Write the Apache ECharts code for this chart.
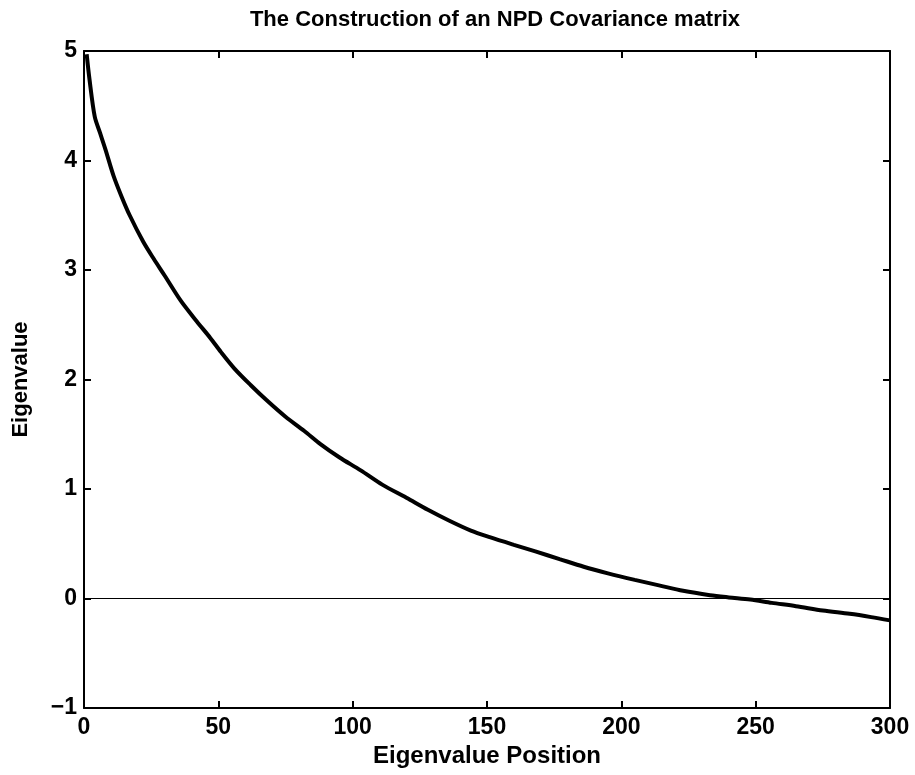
<!DOCTYPE html>
<html>
<head>
<meta charset="utf-8">
<script src="https://cdn.jsdelivr.net/npm/echarts@6/dist/echarts.min.js"></script>
<style>html,body{margin:0;padding:0;background:#fff;}#c{width:915px;height:775px;}</style>
</head>
<body>
<div id="c"></div>
<script>
var positions = [1, 2, 4, 6, 8, 11, 14, 17, 22, 26, 30, 36, 42, 47, 51, 56, 62, 68, 75, 82, 88, 95, 103, 111, 120, 128, 136, 144, 151, 160, 168, 177, 186, 195, 205, 214, 223, 233, 240, 248, 256, 265, 275, 285, 293, 300];
var eigenvalues = [4.97, 4.75, 4.4, 4.25, 4.1, 3.86, 3.67, 3.5, 3.26, 3.1, 2.95, 2.72, 2.53, 2.38, 2.25, 2.1, 1.95, 1.81, 1.66, 1.53, 1.41, 1.29, 1.17, 1.04, 0.92, 0.81, 0.71, 0.62, 0.56, 0.49, 0.43, 0.36, 0.29, 0.23, 0.17, 0.12, 0.07, 0.03, 0.01, -0.01, -0.04, -0.07, -0.11, -0.14, -0.17, -0.2];
var zeroLineX = [0, 300];
var zeroLineY = [0, 0];

var FONT = "'Liberation Sans', Arial, sans-serif";
var curve = positions.map(function (p, i) { return [p, eigenvalues[i]]; });
var zero = zeroLineX.map(function (p, i) { return [p, zeroLineY[i]]; });

var chart = echarts.init(document.getElementById('c'));
var axisLine = { show: true, onZero: false, lineStyle: { color: '#000', width: 2 } };
var tick = { show: true, inside: true, length: 7, lineStyle: { color: '#000', width: 2 } };
chart.setOption({
  animation: false,
  backgroundColor: '#fff',
  title: {
    text: 'The Construction of an NPD Covariance matrix',
    left: 490, top: 4, textAlign: 'center',
    textStyle: { fontFamily: FONT, fontWeight: 'bold', fontSize: 22, color: '#000' }
  },
  grid: { left: 84, right: 25, top: 51, bottom: 67 },
  xAxis: [{
    type: 'value', min: 0, max: 300, interval: 50,
    name: 'Eigenvalue Position', nameLocation: 'middle', nameGap: 35,
    nameTextStyle: { fontFamily: FONT, fontWeight: 'bold', fontSize: 24, color: '#000' },
    axisLine: axisLine, axisTick: tick, splitLine: { show: false },
    axisLabel: { fontFamily: FONT, fontWeight: 'bold', fontSize: 23, color: '#000', margin: 8 }
  }, {
    type: 'value', min: 0, max: 300, interval: 50, position: 'top',
    axisLine: axisLine, axisTick: tick, splitLine: { show: false }, axisLabel: { show: false }
  }],
  yAxis: [{
    type: 'value', min: -1, max: 5, interval: 1,
    name: 'Eigenvalue', nameLocation: 'middle', nameGap: 52,
    nameTextStyle: { fontFamily: FONT, fontWeight: 'bold', fontSize: 22, color: '#000' },
    axisLine: axisLine, axisTick: tick, splitLine: { show: false },
    axisLabel: {
      fontFamily: FONT, fontWeight: 'bold', fontSize: 23, color: '#000', margin: 7,
      formatter: function (v) { return String(v).replace('-', '\u2212'); }
    }
  }, {
    type: 'value', min: -1, max: 5, interval: 1, position: 'right',
    axisLine: axisLine, axisTick: tick, splitLine: { show: false }, axisLabel: { show: false }
  }],
  series: [{
    type: 'line', data: zero, symbol: 'none', silent: true,
    lineStyle: { color: '#000', width: 1 }
  }, {
    type: 'line', data: curve, symbol: 'none', smooth: 0.3,
    lineStyle: { color: '#000', width: 4 }
  }]
});
</script>
</body>
</html>
